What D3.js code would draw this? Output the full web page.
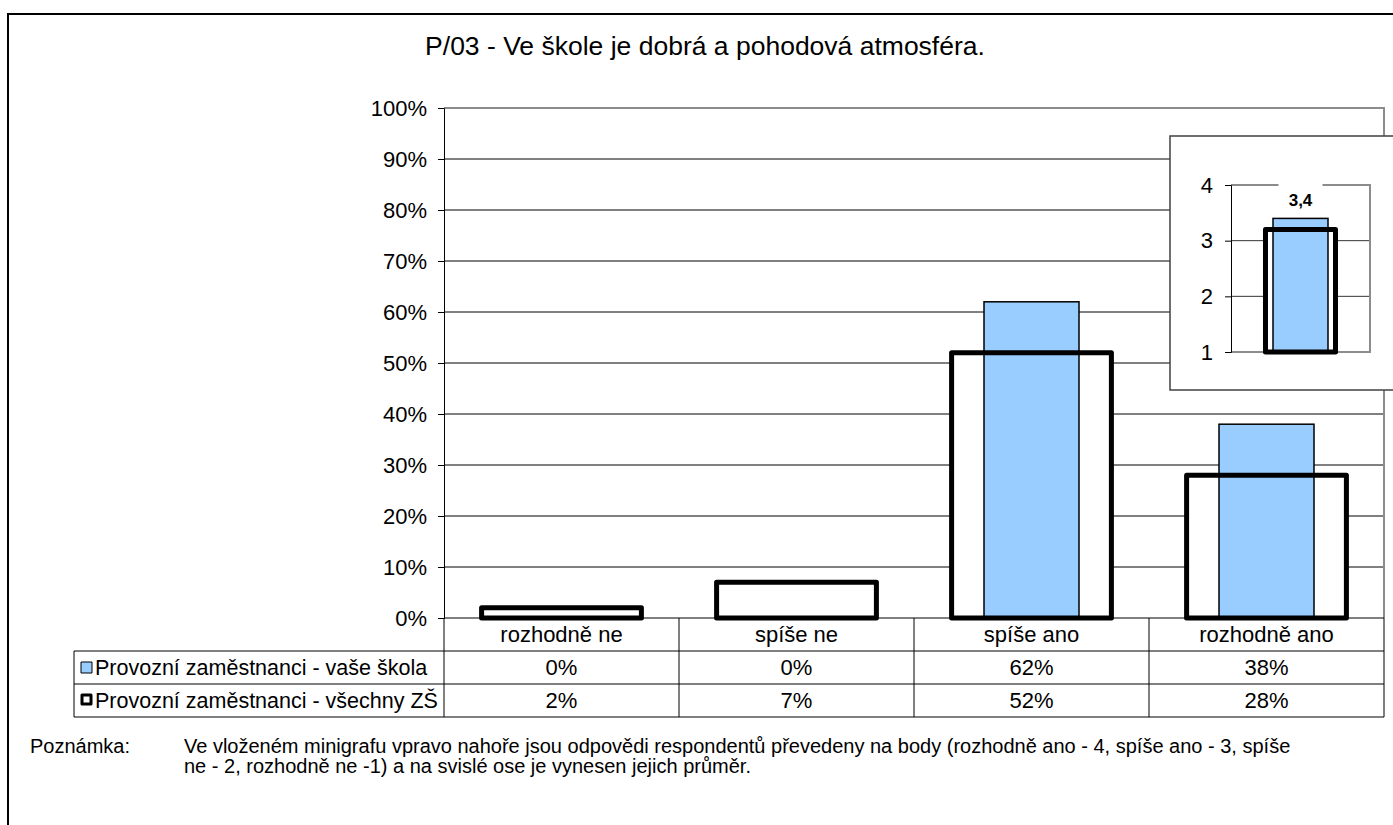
<!DOCTYPE html>
<html>
<head>
<meta charset="utf-8">
<script src="https://cdn.jsdelivr.net/npm/d3@7"></script>
<style>
  body { margin: 0; background: #fff; }
  svg { display: block; font-family: "Liberation Sans", Arial, sans-serif; }
</style>
</head>
<body>
<script>
// data
const categories = ["rozhodně ne", "spíše ne", "spíše ano", "rozhodně ano"];
const schoolValues = [0, 0, 62, 38];
const allValues = [2, 7, 52, 28];
const seriesNames = ["Provozní zaměstnanci - vaše škola", "Provozní zaměstnanci - všechny ZŠ"];
const yTicks = [0, 10, 20, 30, 40, 50, 60, 70, 80, 90, 100];
const miniSchool = 3.4;
const miniAll = 3.2;
const miniTicks = [1, 2, 3, 4];
const miniLabel = "3,4";
const title = "P/03 - Ve škole je dobrá a pohodová atmosféra.";
const noteLines = [
  "Ve vloženém minigrafu vpravo nahoře jsou odpovědi respondentů převedeny na body (rozhodně ano - 4, spíše ano - 3, spíše",
  "ne - 2, rozhodně ne -1) a na svislé ose je vynesen jejich průměr."
];

const width = 1393;
const height = 825;
const blue = "#99ccff";
const fs = 22; // table and axis text

const plot = { left: 444, right: 1384, top: 108, bottom: 618 };
const rowH = 33;
const legendLeft = 74;

const svg = d3.select("body").append("svg")
  .attr("width", width)
  .attr("height", height);

// outer frame (runs off the right and bottom edge)
svg.append("rect")
  .attr("x", 8).attr("y", 14)
  .attr("width", 1400).attr("height", 830)
  .attr("fill", "#fff")
  .attr("stroke", "#000")
  .attr("stroke-width", 2);

svg.append("text")
  .attr("x", 705).attr("y", 55)
  .attr("text-anchor", "middle")
  .attr("font-size", 26.5)
  .text(title);

const x = d3.scaleBand()
  .domain(categories)
  .range([plot.left, plot.right])
  .paddingInner(0.32)
  .paddingOuter(0.16);

const y = d3.scaleLinear()
  .domain([0, 100])
  .range([plot.bottom, plot.top]);

// gridlines
svg.append("g")
  .selectAll("line")
  .data(yTicks.filter(d => d > 0 && d < 100))
  .join("line")
  .attr("x1", plot.left).attr("x2", plot.right)
  .attr("y1", d => y(d)).attr("y2", d => y(d))
  .attr("stroke", "#000")
  .attr("stroke-width", 1);

// plot border top/right (gray)
svg.append("path")
  .attr("d", `M${plot.left},${y(100)}H${plot.right}V${plot.bottom}`)
  .attr("fill", "none")
  .attr("stroke", "#8c8c8c")
  .attr("stroke-width", 2);

// y axis
const yAxis = d3.axisLeft(y)
  .tickValues(yTicks)
  .tickFormat(d => d + "%")
  .tickSize(6)
  .tickPadding(11);

const gy = svg.append("g")
  .attr("transform", `translate(${plot.left},0)`)
  .call(yAxis);
gy.select(".domain").attr("stroke", "#000");
gy.selectAll(".tick line").attr("stroke", "#000");
gy.selectAll(".tick text")
  .attr("font-size", fs)
  .attr("font-family", "Liberation Sans, Arial, sans-serif")
  .attr("fill", "#000");

const center = c => x(c) + x.bandwidth() / 2;
const blueW = 95;

// white under-fill of the "všechny ZŠ" bars (hides gridlines)
svg.append("g")
  .selectAll("rect")
  .data(categories)
  .join("rect")
  .attr("x", c => x(c))
  .attr("y", (c, i) => y(allValues[i]))
  .attr("width", x.bandwidth())
  .attr("height", (c, i) => y(0) - y(allValues[i]))
  .attr("fill", "#fff");

// "vaše škola" bars
svg.append("g")
  .selectAll("rect")
  .data(categories)
  .join("rect")
  .attr("x", c => center(c) - blueW / 2)
  .attr("y", (c, i) => y(schoolValues[i]))
  .attr("width", blueW)
  .attr("height", (c, i) => y(0) - y(schoolValues[i]))
  .attr("fill", blue)
  .attr("stroke", "#000")
  .attr("stroke-width", 1.5);

// "všechny ZŠ" outline bars
svg.append("g")
  .selectAll("rect")
  .data(categories)
  .join("rect")
  .attr("x", c => x(c))
  .attr("y", (c, i) => y(allValues[i]))
  .attr("width", x.bandwidth())
  .attr("height", (c, i) => y(0) - y(allValues[i]))
  .attr("fill", "none")
  .attr("stroke", "#000")
  .attr("stroke-width", 5)
  .attr("stroke-linejoin", "round");

// data table
const table = svg.append("g").attr("stroke", "#000").attr("stroke-width", 1);
const tTop = plot.bottom;
const tBottom = tTop + rowH * 3;
table.append("line")
  .attr("x1", plot.left).attr("x2", plot.right)
  .attr("y1", tTop).attr("y2", tTop);
[1, 2, 3].forEach(r => {
  table.append("line")
    .attr("x1", legendLeft).attr("x2", plot.right)
    .attr("y1", tTop + r * rowH).attr("y2", tTop + r * rowH);
});
table.append("line")
  .attr("x1", legendLeft).attr("x2", legendLeft)
  .attr("y1", tTop + rowH).attr("y2", tBottom);
const colEdges = categories.map(c => x(c) - x.step() * x.paddingInner() / 2);
colEdges.push(plot.right);
table.selectAll(".col")
  .data(colEdges)
  .join("line")
  .attr("x1", d => d).attr("x2", d => d)
  .attr("y1", tTop).attr("y2", tBottom);

const rowMid = r => tTop + r * rowH + rowH / 2;
svg.append("g")
  .selectAll("text")
  .data(categories)
  .join("text")
  .attr("x", c => center(c))
  .attr("y", rowMid(0))
  .attr("dy", "0.36em")
  .attr("text-anchor", "middle")
  .attr("font-size", fs)
  .text(c => c);

[schoolValues, allValues].forEach((vals, r) => {
  svg.append("g")
    .selectAll("text")
    .data(categories)
    .join("text")
    .attr("x", c => center(c))
    .attr("y", rowMid(r + 1))
    .attr("dy", "0.36em")
    .attr("text-anchor", "middle")
    .attr("font-size", fs)
    .text((c, i) => vals[i] + "%");
});

// legend keys in the table
seriesNames.forEach((name, r) => {
  const cy = rowMid(r + 1);
  svg.append("rect")
    .attr("x", r === 0 ? 81 : 82)
    .attr("y", cy - 5.5)
    .attr("width", r === 0 ? 11 : 9)
    .attr("height", r === 0 ? 11 : 9)
    .attr("fill", r === 0 ? blue : "#fff")
    .attr("stroke", "#000")
    .attr("stroke-width", r === 0 ? 1 : 3)
    .attr("stroke-linejoin", "round");
  svg.append("text")
    .attr("x", 95)
    .attr("y", cy)
    .attr("dy", "0.36em")
    .attr("font-size", 21.5)
    .text(name);
});

// inset mini chart
svg.append("rect")
  .attr("x", 1170).attr("y", 136)
  .attr("width", 260).attr("height", 254)
  .attr("fill", "#fff")
  .attr("stroke", "#404040")
  .attr("stroke-width", 1.5);

const mini = { left: 1231, right: 1370, top: 185, bottom: 352 };
const mx = d3.scaleBand()
  .domain(["průměr"])
  .range([mini.left, mini.right])
  .padding(0.33);
const my = d3.scaleLinear()
  .domain([1, 4])
  .range([mini.bottom, mini.top]);

svg.append("g")
  .selectAll("line")
  .data(miniTicks.filter(d => d > 1 && d < 4))
  .join("line")
  .attr("x1", mini.left).attr("x2", mini.right)
  .attr("y1", d => my(d)).attr("y2", d => my(d))
  .attr("stroke", "#333")
  .attr("stroke-width", 1);

svg.append("path")
  .attr("d", `M${mini.left},${my(4)}H${mini.right}V${my(1)}H${mini.left}`)
  .attr("fill", "none")
  .attr("stroke", "#8c8c8c")
  .attr("stroke-width", 2);

const gmy = svg.append("g")
  .attr("transform", `translate(${mini.left},0)`)
  .call(d3.axisLeft(my).tickValues(miniTicks).tickFormat(d3.format("d")).tickSize(6).tickPadding(12));
gmy.select(".domain").attr("stroke", "#000");
gmy.selectAll(".tick line").attr("stroke", "#000");
gmy.selectAll(".tick text")
  .attr("font-size", fs)
  .attr("font-family", "Liberation Sans, Arial, sans-serif")
  .attr("fill", "#000");

const mcx = mx("průměr") + mx.bandwidth() / 2;
const miniBlueW = 55;

svg.append("rect")
  .attr("x", mx("průměr")).attr("y", my(miniAll))
  .attr("width", mx.bandwidth()).attr("height", my(1) - my(miniAll))
  .attr("fill", "#fff");
svg.append("rect")
  .attr("x", mcx - miniBlueW / 2).attr("y", my(miniSchool))
  .attr("width", miniBlueW).attr("height", my(1) - my(miniSchool))
  .attr("fill", blue)
  .attr("stroke", "#000")
  .attr("stroke-width", 1.5);
svg.append("rect")
  .attr("x", mx("průměr")).attr("y", my(miniAll))
  .attr("width", mx.bandwidth()).attr("height", my(1) - my(miniAll))
  .attr("fill", "none")
  .attr("stroke", "#000")
  .attr("stroke-width", 5)
  .attr("stroke-linejoin", "round");

// label with white background over the top border
svg.append("rect")
  .attr("x", mcx - 22).attr("y", my(4) - 4)
  .attr("width", 44).attr("height", 28)
  .attr("fill", "#fff");
svg.append("text")
  .attr("x", mcx).attr("y", my(4) + 21)
  .attr("text-anchor", "middle")
  .attr("font-size", 17)
  .attr("font-weight", "bold")
  .text(miniLabel);

// note
svg.append("text")
  .attr("x", 30).attr("y", 753)
  .attr("font-size", 20)
  .text("Poznámka:");
svg.append("g")
  .selectAll("text")
  .data(noteLines)
  .join("text")
  .attr("x", 184)
  .attr("y", (d, i) => 753 + i * 20)
  .attr("font-size", 20)
  .text(d => d);
</script>
</body>
</html>
